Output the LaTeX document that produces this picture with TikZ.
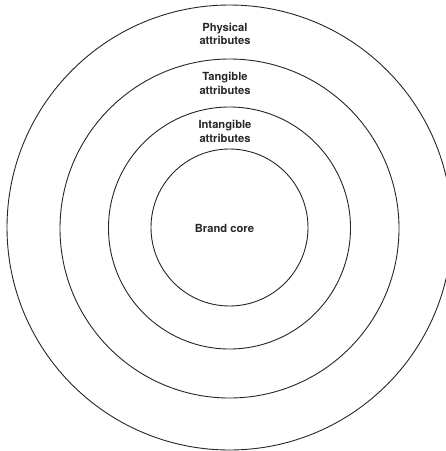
\documentclass[tikz,border=0pt]{standalone}
\usepackage{fontspec}
\setmainfont{TeX Gyre Heros}
\usetikzlibrary{positioning}
\tikzset{
    ring/.style={
      circle,
      draw=black!85, line width=0.9pt,
      inner sep=0pt},
    lbl/.style={
      font=\bfseries\fontsize{11.2}{13.5}\selectfont,
      text=black!85,
      align=center},
}

\begin{document}
\begin{tikzpicture}[x=1pt,y=-1pt]
    \clip (0,0) rectangle (446,451);
    \node (physical) [ring, minimum size=445pt] at (229.5,227.5) {};
    \node (tangible) [ring, minimum size=339pt] at (229.5,228.5) {};
    \node (intangible) [ring, minimum size=242pt] at (229.5,228) {};
    \node (core) [ring, minimum size=157pt] at (229.5,227.5) {};
    \node (corelbl) [lbl] at (224.5,228)
          {Brand core};
    \node (physlbl) [lbl] at (225,34)
          {Physical\\attributes};
    \node (tanglbl) [lbl] at (225,83.5)
          {Tangible\\attributes};
    \node (intlbl) [lbl] at (225,131.5)
          {Intangible\\attributes};
\end{tikzpicture}
\end{document}
